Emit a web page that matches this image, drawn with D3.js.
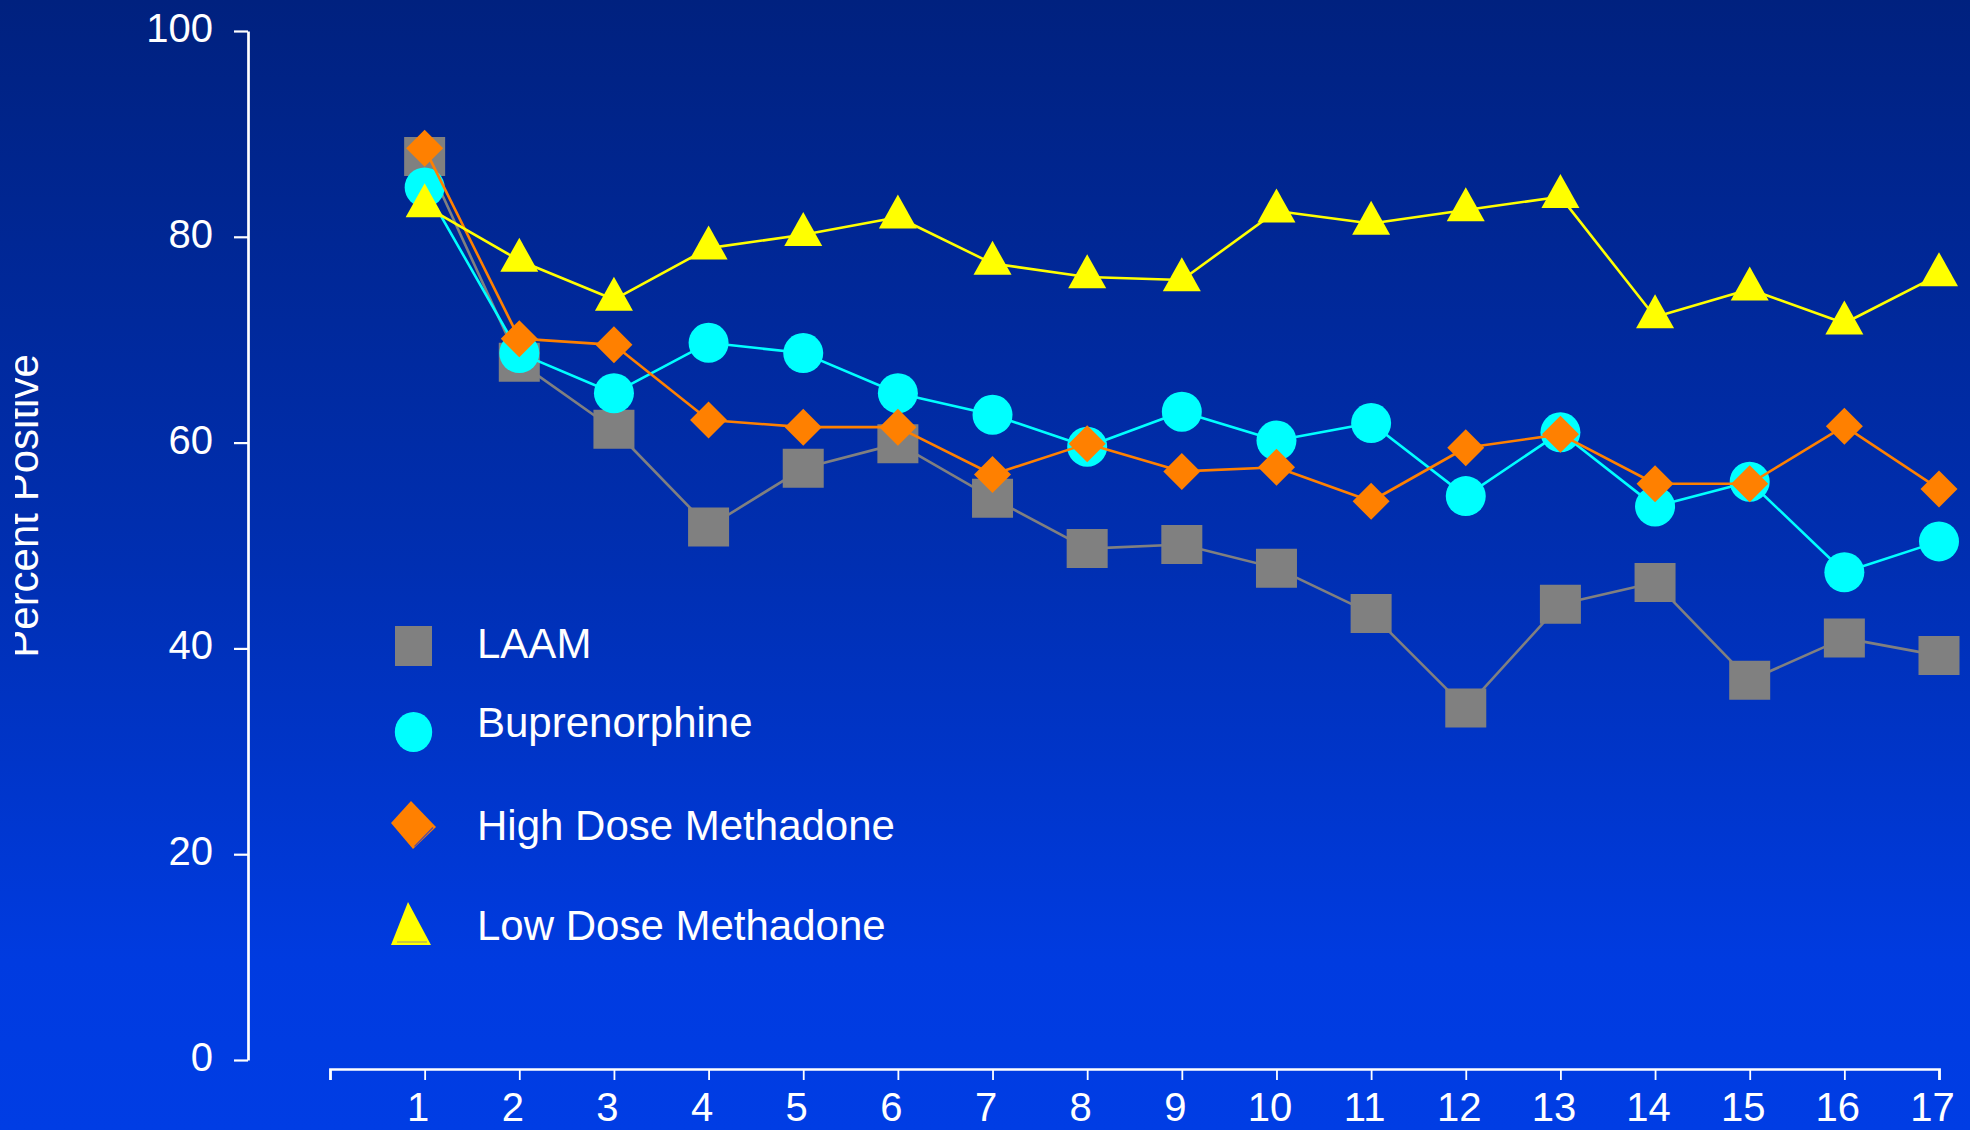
<!DOCTYPE html>
<html>
<head>
<meta charset="utf-8">
<script src="https://cdn.jsdelivr.net/npm/d3@7"></script>
<style>
  html, body { margin: 0; padding: 0; background: #0030b0; }
  svg { display: block; }
  text { font-family: "Liberation Sans", Arial, Helvetica, sans-serif; fill: #ffffff; }
</style>
</head>
<body>
<svg id="chart" width="1970" height="1130"></svg>
<script>
// ---- data: percent of urine samples positive, by week ----
const weeks = d3.range(1, 18);
const seriesNames = ["LAAM", "Buprenorphine", "High Dose Methadone", "Low Dose Methadone"];
const laam          = [87.8, 67.8, 61.3, 51.8, 57.5, 59.9, 54.6, 49.7, 50.1, 47.8, 43.4, 34.2, 44.3, 46.4, 36.9, 41.0, 39.3];
const buprenorphine = [84.8, 68.7, 64.8, 69.7, 68.7, 64.8, 62.7, 59.6, 63.0, 60.2, 61.9, 54.8, 61.0, 53.8, 56.2, 47.4, 50.4];
const highDose      = [88.6, 70.1, 69.5, 62.2, 61.5, 61.5, 56.9, 59.9, 57.2, 57.6, 54.3, 59.5, 60.8, 56.0, 56.0, 61.6, 55.5];
const lowDose       = [83.0, 77.7, 73.9, 78.9, 80.2, 81.9, 77.4, 76.1, 75.8, 82.5, 81.3, 82.6, 83.9, 72.2, 74.9, 71.6, 76.3];
const yTickValues = [0, 20, 40, 60, 80, 100];
const xTickValues = d3.range(0, 18);
const yTitle = "Percent Positive";

// ---- styling ----
const W = 1970, H = 1130;
const seriesStyle = [
  { values: laam,          color: "#808080", shape: "square"   },
  { values: buprenorphine, color: "#00ffff", shape: "circle"   },
  { values: highDose,      color: "#ff8000", shape: "diamond"  },
  { values: lowDose,       color: "#ffff00", shape: "triangle" }
];

const svg = d3.select("#chart");

// background gradient
const defs = svg.append("defs");
const grad = defs.append("linearGradient")
  .attr("id", "bg").attr("x1", 0).attr("y1", 0).attr("x2", 0).attr("y2", 1);
grad.append("stop").attr("offset", "0%").attr("stop-color", "#00217f");
grad.append("stop").attr("offset", "50%").attr("stop-color", "#002fb2");
grad.append("stop").attr("offset", "85%").attr("stop-color", "#003be0");
grad.append("stop").attr("offset", "100%").attr("stop-color", "#003de4");
svg.append("rect").attr("width", W).attr("height", H).attr("fill", "url(#bg)");

// clip for the axis title (its upper part is cut at the left edge)
defs.append("clipPath").attr("id", "titleClip")
  .append("rect").attr("x", 15).attr("y", 0).attr("width", 100).attr("height", H);

// ---- scales ----
const x = d3.scaleLinear().domain([0, 17]).range([330, 1939]);
const y = d3.scaleLinear().domain([0, 100]).range([1060, 31]);

// ---- y axis ----
const yAxis = svg.append("g")
  .attr("transform", "translate(248,0)")
  .call(d3.axisLeft(y).tickValues(yTickValues).tickSize(14).tickSizeOuter(0).tickPadding(21));
yAxis.select(".domain").attr("stroke", "#fff").attr("stroke-width", 2.7);
yAxis.selectAll(".tick line").attr("stroke", "#fff").attr("stroke-width", 2.2);
yAxis.selectAll(".tick text")
  .attr("font-size", 40).attr("dy", "0.26em").attr("fill", "#fff");

// ---- x axis ----
const xAxis = svg.append("g")
  .attr("transform", "translate(0,1069)")
  .call(d3.axisBottom(x).tickValues(xTickValues).tickSize(11).tickPadding(13)
    .tickFormat(d => d === 0 ? "" : d));
xAxis.select(".domain").attr("stroke", "#fff").attr("stroke-width", 2.7);
xAxis.selectAll(".tick line").attr("stroke", "#fff").attr("stroke-width", 1.8);
xAxis.selectAll(".tick text")
  .attr("font-size", 40).attr("dx", "-7").attr("fill", "#fff");

svg.selectAll(".domain, .tick text").attr("font-family", null);
svg.selectAll("g").attr("font-family", null);

// ---- axis title ----
svg.append("g").attr("clip-path", "url(#titleClip)")
  .append("text")
  .attr("transform", "translate(38,506) rotate(-90)")
  .attr("text-anchor", "middle")
  .attr("font-size", 42)
  .text(yTitle);

// ---- marker shapes ----
function markerPath(shape) {
  switch (shape) {
    case "square":   return "M-20.5,-19.5H20.5V19.5H-20.5Z";
    case "circle":   return d3.arc()({ innerRadius: 0, outerRadius: 20, startAngle: 0, endAngle: 2 * Math.PI });
    case "diamond":  return "M0,-18.5L18.5,0L0,18.5L-18.5,0Z";
    case "triangle": return "M0,-22.7L19,11.3L-19,11.3Z";
  }
}

// ---- series: line, then markers ----
const line = d3.line().x((d, i) => x(weeks[i])).y(d => y(d));

seriesStyle.forEach(s => {
  const g = svg.append("g");
  g.append("path")
    .attr("d", line(s.values))
    .attr("fill", "none")
    .attr("stroke", s.color)
    .attr("stroke-width", 2.6)
    .attr("stroke-linejoin", "round");
  g.selectAll("path.marker")
    .data(s.values)
    .join("path")
    .attr("class", "marker")
    .attr("transform", (d, i) => `translate(${x(weeks[i])},${y(d)})`)
    .attr("d", markerPath(s.shape))
    .attr("fill", s.color);
});

// ---- legend ----
const legendX = 413.5, legendTextX = 477;
const legendRowY = [646, 732, 825, 925];
const legendBaseline = [658, 737, 840, 940];
const legend = svg.append("g");

legend.append("rect")
  .attr("x", legendX - 18.5).attr("y", legendRowY[0] - 20)
  .attr("width", 37).attr("height", 40).attr("fill", seriesStyle[0].color);
legend.append("ellipse")
  .attr("cx", legendX).attr("cy", legendRowY[1])
  .attr("rx", 18.7).attr("ry", 20).attr("fill", seriesStyle[1].color);
const dg = legend.append("g").attr("transform", `translate(${legendX},${legendRowY[2]})`);
dg.append("path").attr("d", "M-2.5,-24L22.5,2L-0.5,24L-22.5,-2Z").attr("fill", seriesStyle[2].color);
dg.append("path").attr("d", "M19.5,2.5L1,21.5").attr("stroke", "#5a4aa0").attr("stroke-width", 1.2);
const tg = legend.append("g").attr("transform", `translate(${legendX},${legendRowY[3]})`);
tg.append("path").attr("d", "M-5.5,-23L17.5,20L-22.5,20Z").attr("fill", seriesStyle[3].color);
tg.append("path").attr("d", "M-16.5,17H13.5").attr("stroke", "#a8a860").attr("stroke-width", 1.2);

legend.selectAll("text.lbl")
  .data(seriesNames)
  .join("text")
  .attr("class", "lbl")
  .attr("x", legendTextX)
  .attr("y", (d, i) => legendBaseline[i])
  .attr("font-size", 42)
  .text(d => d);
</script>
</body>
</html>
